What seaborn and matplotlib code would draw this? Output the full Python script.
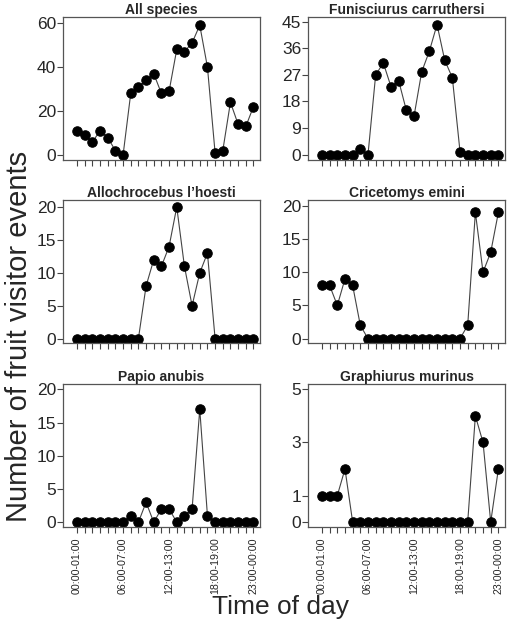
import numpy as np
import pandas as pd
import matplotlib
matplotlib.use('Agg')
import matplotlib.pyplot as plt
import seaborn as sns

# hourly fruit visitor events per species (24 hourly bins)
hours = list(range(24))
all_species = [11, 9, 6, 11, 8, 2, 0, 28, 31, 34, 37, 28, 29, 48, 47, 51, 59, 40, 1, 2, 24, 14, 13, 22]
funisciurus = [0, 0, 0, 0, 0, 2, 0, 27, 31, 23, 25, 15, 13, 28, 35, 44, 32, 26, 1, 0, 0, 0, 0, 0]
allochrocebus = [0, 0, 0, 0, 0, 0, 0, 0, 0, 8, 12, 11, 14, 20, 11, 5, 10, 13, 0, 0, 0, 0, 0, 0]
cricetomys = [8, 8, 5, 9, 8, 2, 0, 0, 0, 0, 0, 0, 0, 0, 0, 0, 0, 0, 0, 2, 19, 10, 13, 19]
papio = [0, 0, 0, 0, 0, 0, 0, 1, 0, 3, 0, 2, 2, 0, 1, 2, 17, 1, 0, 0, 0, 0, 0, 0]
graphiurus = [1, 1, 1, 2, 0, 0, 0, 0, 0, 0, 0, 0, 0, 0, 0, 0, 0, 0, 0, 0, 4, 3, 0, 2]

titles = ['All species', 'Funisciurus carruthersi', "Allochrocebus l\u2019hoesti",
          'Cricetomys emini', 'Papio anubis', 'Graphiurus murinus']
series = [all_species, funisciurus, allochrocebus, cricetomys, papio, graphiurus]
yticks = [[0, 20, 40, 60], [0, 9, 18, 27, 36, 45], [0, 5, 10, 15, 20],
          [0, 5, 10, 15, 20], [0, 5, 10, 15, 20], [0, 1, 3, 5]]
ylims = [(-2.1, 62.8), (-1.7, 46.6), (-0.7, 21.0), (-0.7, 20.8), (-0.7, 20.8), (-0.18, 5.2)]

label_pos = [0, 6, 12, 18, 23]
label_txt = ['00:00-01:00', '06:00-07:00', '12:00-13:00', '18:00-19:00', '23:00-00:00']

sns.set_style('ticks')
plt.rcParams['font.family'] = ['Liberation Sans', 'DejaVu Sans']

fig, axes = plt.subplots(3, 2, figsize=(5.1, 6.25), dpi=100)
fig.subplots_adjust(left=0.124, right=0.99, top=0.973, bottom=0.157, wspace=0.245, hspace=0.285)

for ax, vals, title, yt, yl in zip(axes.flat, series, titles, yticks, ylims):
    df = pd.DataFrame({'hour': hours, 'events': vals})
    sns.lineplot(data=df, x='hour', y='events', ax=ax, color='#444444', linewidth=0.8,
                 marker='o', markersize=6.8, markerfacecolor='black', markeredgecolor='black')
    ax.set_title(title, fontsize=10, fontweight='bold', pad=2)
    ax.set_xlim(-1.8, 23.85)
    ax.set_ylim(*yl)
    ax.set_yticks(yt)
    ax.set_xticks(hours)
    ax.set_xticklabels([])
    ax.tick_params(axis='y', labelsize=12.5, length=4, width=0.8, color='#444444', pad=1)
    ax.tick_params(axis='x', length=4, width=0.8, color='#444444')
    ax.set_xlabel('')
    ax.set_ylabel('')
    for s in ax.spines.values():
        s.set_visible(True)
        s.set_color('#555555')
        s.set_linewidth(0.9)

for ax in axes[2]:
    labels = [label_txt[label_pos.index(h)] if h in label_pos else '' for h in hours]
    ax.set_xticklabels(labels, rotation=90, fontsize=7.7)

fig.text(0.038, 0.462, 'Number of fruit visitor events', rotation=90, fontsize=21,
         ha='center', va='center')
fig.text(0.55, 0.029, 'Time of day', fontsize=19, ha='center', va='center')

fig.savefig('out.png', dpi=100)
